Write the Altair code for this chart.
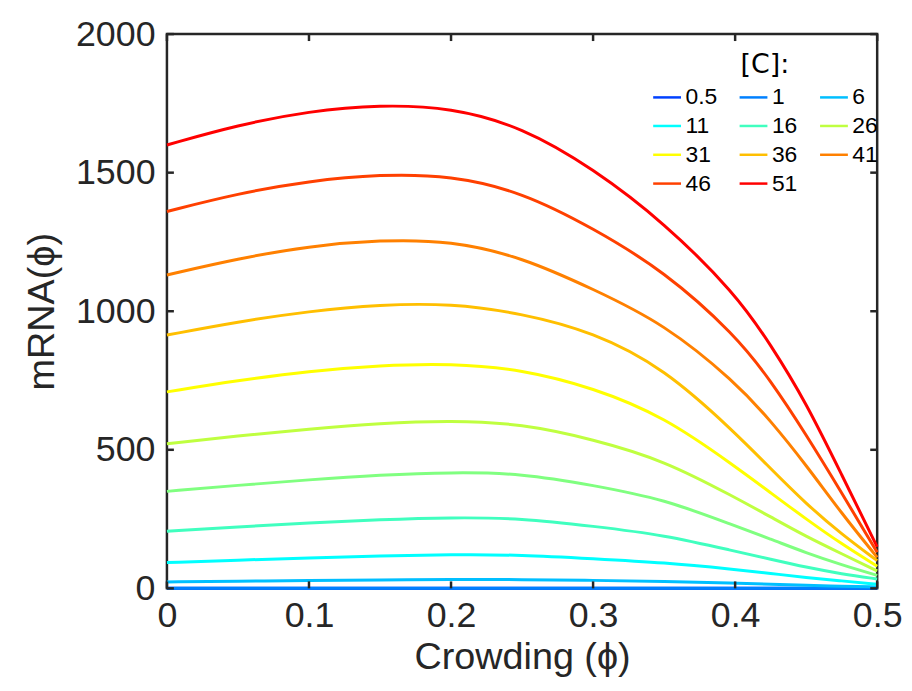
import altair as alt
import pandas as pd

# Crowding values (x) at which curves were read
phi = [0, 0.05, 0.1, 0.15, 0.2, 0.25, 0.3, 0.35, 0.4, 0.425, 0.45, 0.475, 0.5]

# mRNA(phi) for each concentration [C]
c0_5 = [0.15, 0.17, 0.19, 0.2, 0.21, 0.21, 0.2, 0.17, 0.13, 0.1, 0.08, 0.05, 0.03]
c1 = [0.6, 0.7, 0.75, 0.8, 0.85, 0.85, 0.8, 0.7, 0.5, 0.4, 0.3, 0.2, 0.1]
c6 = [23, 26, 28, 30, 32, 32, 29, 25, 19, 15, 11, 8, 5]
c11 = [93, 102, 110, 117, 122, 121, 107, 93, 68, 54, 39, 27, 15]
c16 = [206, 222, 236, 248, 256, 253, 224, 193, 134, 105, 76, 52, 34]
c21 = [350, 372, 392, 409, 419, 415, 372, 322, 225, 178, 128, 85, 47]
c26 = [522, 550, 575, 596, 606, 594, 538, 462, 328, 258, 187, 125, 63]
c31 = [709, 750, 784, 805, 812, 790, 724, 620, 440, 345, 250, 160, 80]
c36 = [914, 962, 1000, 1024, 1028, 992, 925, 795, 562, 432, 305, 195, 100]
c41 = [1131, 1190, 1235, 1257, 1255, 1195, 1080, 955, 745, 605, 445, 270, 112]
c46 = [1360, 1425, 1470, 1494, 1490, 1430, 1300, 1145, 915, 750, 555, 345, 130]
c51 = [1600, 1672, 1722, 1745, 1735, 1665, 1515, 1320, 1065, 880, 670, 410, 150]

conc_labels = ["0.5", "1", "6", "11", "16", "21", "26", "31", "36", "41", "46", "51"]
series = [c0_5, c1, c6, c11, c16, c21, c26, c31, c36, c41, c46, c51]
legend_values = ["0.5", "1", "6", "11", "16", "26", "31", "36", "41", "46", "51"]
colors = ["#0040ff", "#0080ff", "#00bfff", "#00ffff", "#40ffbf", "#80ff80",
          "#bfff40", "#ffff00", "#ffbf00", "#ff8000", "#ff4000", "#ff0000"]

x_ticks = [0, 0.1, 0.2, 0.3, 0.4, 0.5]
y_ticks = [0, 500, 1000, 1500, 2000]

rows = []
for lab, vals in zip(conc_labels, series):
    for p, v in zip(phi, vals):
        rows.append({"phi": p, "mRNA": v, "C": lab})
df = pd.DataFrame(rows)

W, H = 715, 558
FONT = "Liberation Sans"
DARK = "#262626"


def xenc():
    return alt.X("phi:Q", scale=alt.Scale(domain=[0, 0.5], nice=False, zero=False),
                 title="Crowding (ϕ)",
                 axis=alt.Axis(values=x_ticks, format="~g", labelPadding=10,
                               titlePadding=6, labelFlush=False))


def yenc():
    return alt.Y("mRNA:Q", scale=alt.Scale(domain=[0, 2000], nice=False),
                 title="mRNA(ϕ)",
                 axis=alt.Axis(values=y_ticks, format="d", labelPadding=12,
                               titlePadding=14, labelFlush=False))


lines = alt.Chart(df).mark_line(strokeWidth=3, interpolate="basis").encode(
    x=xenc(),
    y=yenc(),
    color=alt.Color("C:N",
                    scale=alt.Scale(domain=conc_labels, range=colors),
                    legend=alt.Legend(
                        title="[C]:", values=legend_values, orient="none",
                        legendX=488, legendY=18, columns=3, direction="horizontal",
                        symbolType="stroke", symbolSize=784, symbolStrokeWidth=2.5,
                        labelFontSize=23, labelFont=FONT, labelColor="black",
                        labelOffset=3, titleFontSize=27, titleFont="DejaVu Sans",
                        titleFontWeight="normal", titleColor="black",
                        titleAnchor="middle", titlePadding=3,
                        columnPadding=17, rowPadding=1, padding=0)),
    detail="C:N",
)

xt = pd.DataFrame({"phi": x_ticks})
yt = pd.DataFrame({"mRNA": y_ticks})

tick_style = dict(color=DARK, strokeWidth=2.5)
xb = alt.Chart(xt).mark_rule(**tick_style).encode(
    x=xenc(), y=alt.value(H), y2=alt.value(H - 7))
xtop = alt.Chart(xt).mark_rule(**tick_style).encode(
    x=xenc(), y=alt.value(0), y2=alt.value(7))
yl = alt.Chart(yt).mark_rule(**tick_style).encode(
    y=yenc(), x=alt.value(0), x2=alt.value(7))
yr = alt.Chart(yt).mark_rule(**tick_style).encode(
    y=yenc(), x=alt.value(W), x2=alt.value(W - 7))

chart = alt.layer(lines, xb, xtop, yl, yr).properties(
    width=W, height=H,
    autosize=alt.AutoSizeParams(type="none"),
    padding={"left": 160, "top": 24, "right": 27, "bottom": 93},
    background="white",
).configure_view(
    stroke=DARK, strokeWidth=2.5
).configure_axis(
    domain=False, ticks=False, grid=False,
    labelFontSize=36, labelFont=FONT, labelColor=DARK,
    titleFontSize=38, titleFont=FONT, titleColor=DARK, titleFontWeight="normal",
)

chart.save("out.html", embed_options={"renderer": "svg", "actions": False})
